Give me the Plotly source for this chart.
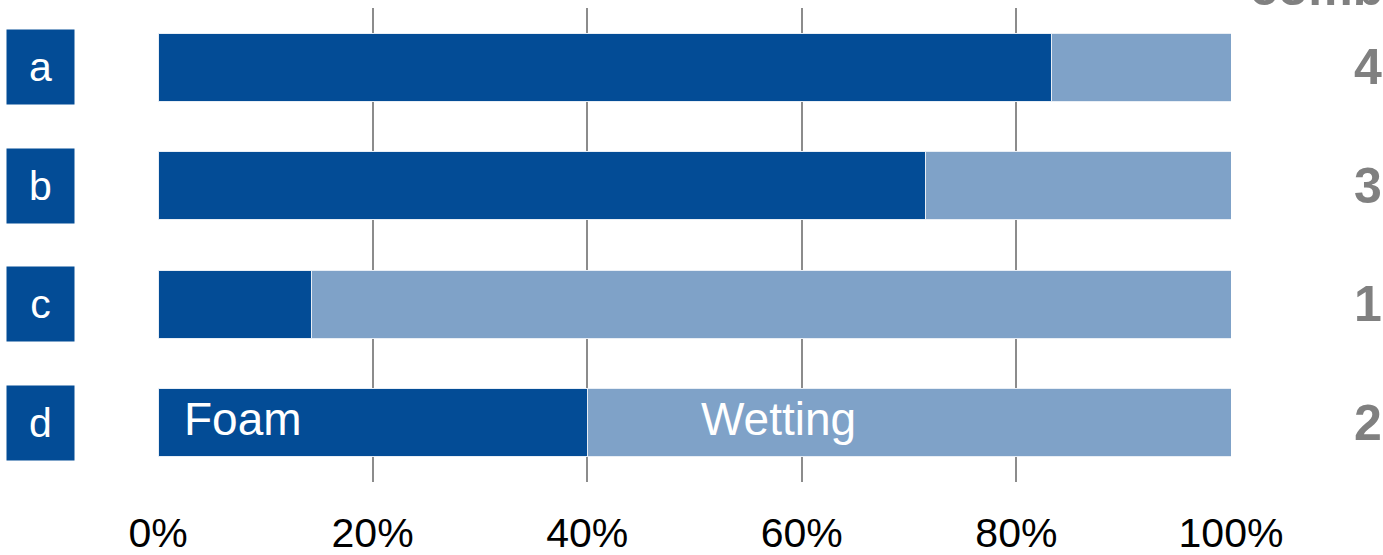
import plotly.graph_objects as go

categories = ["a", "b", "c", "d"]
foam = [83.3, 71.5, 14.3, 40.0]
wetting = [16.7, 28.5, 85.7, 60.0]
combinations = ["4", "3", "1", "2"]
tick_vals = [0, 20, 40, 60, 80, 100]
tick_text = ["0%", "20%", "40%", "60%", "80%", "100%"]

DARK = "#034C96"
LIGHT = "#7FA2C8"
GRAY = "#808080"
FONT = "Liberation Sans, Arial, sans-serif"

fig = go.Figure()
fig.add_trace(go.Bar(y=categories, x=foam, orientation="h", name="Foam",
                     marker=dict(color=DARK, line=dict(color="#E8EEF5", width=1))))
fig.add_trace(go.Bar(y=categories, x=wetting, orientation="h", name="Wetting",
                     marker=dict(color=LIGHT, line=dict(color="#E8EEF5", width=1))))

W, H = 1383, 555
L, R, T, B = 158, 152, 8, 73
pw = W - L - R

def px_to_paper_x(px):
    return (px - L) / pw

annotations = []
for cat in categories:
    annotations.append(dict(x=px_to_paper_x(40.5), xref="paper", y=cat, yref="y",
                            text=cat, showarrow=False, bgcolor=DARK,
                            width=65, height=72, xanchor="center", yanchor="middle",
                            font=dict(color="white", size=41, family=FONT)))
for cat, c in zip(categories, combinations):
    annotations.append(dict(x=px_to_paper_x(1368), xref="paper", y=cat, yref="y",
                            text="<b>%s</b>" % c, showarrow=False,
                            xanchor="center", yanchor="middle",
                            font=dict(color=GRAY, size=50, family=FONT)))
annotations.append(dict(x=px_to_paper_x(1248), xref="paper", y=1 + 20 / (H - T - B), yref="paper",
                        text="<b>combinations</b>", showarrow=False,
                        xanchor="left", yanchor="middle",
                        font=dict(color=GRAY, size=50, family=FONT)))
annotations.append(dict(x=2.2, xref="x", y="d", yref="y", text="Foam", showarrow=False,
                        xanchor="left", yanchor="middle", yshift=4,
                        font=dict(color="white", size=46, family=FONT)))
annotations.append(dict(x=50.4, xref="x", y="d", yref="y", text="Wetting", showarrow=False,
                        xanchor="left", yanchor="middle", yshift=4,
                        font=dict(color="white", size=46, family=FONT)))

fig.update_layout(
    barmode="stack",
    bargap=0.43,
    width=W, height=H,
    margin=dict(l=L, r=R, t=T, b=B, pad=0, autoexpand=False),
    plot_bgcolor="white", paper_bgcolor="white",
    showlegend=False,
    font=dict(family=FONT),
    annotations=annotations,
    xaxis=dict(range=[0, 100], tickvals=tick_vals, ticktext=tick_text,
               showgrid=True, gridcolor="#8C8C8C", gridwidth=2,
               zeroline=False, showline=False, ticks="", automargin=False,
               tickfont=dict(size=41, color="black", family=FONT),
               ticklabelstandoff=23),
    yaxis=dict(categoryorder="array", categoryarray=categories, autorange="reversed",
               automargin=False,
               showticklabels=False, showgrid=False, zeroline=False, showline=False, ticks=""),
)

fig.write_html("out.html", config={"displayModeBar": False},
               post_script="document.body.style.margin='0';document.body.style.overflow='hidden';")
